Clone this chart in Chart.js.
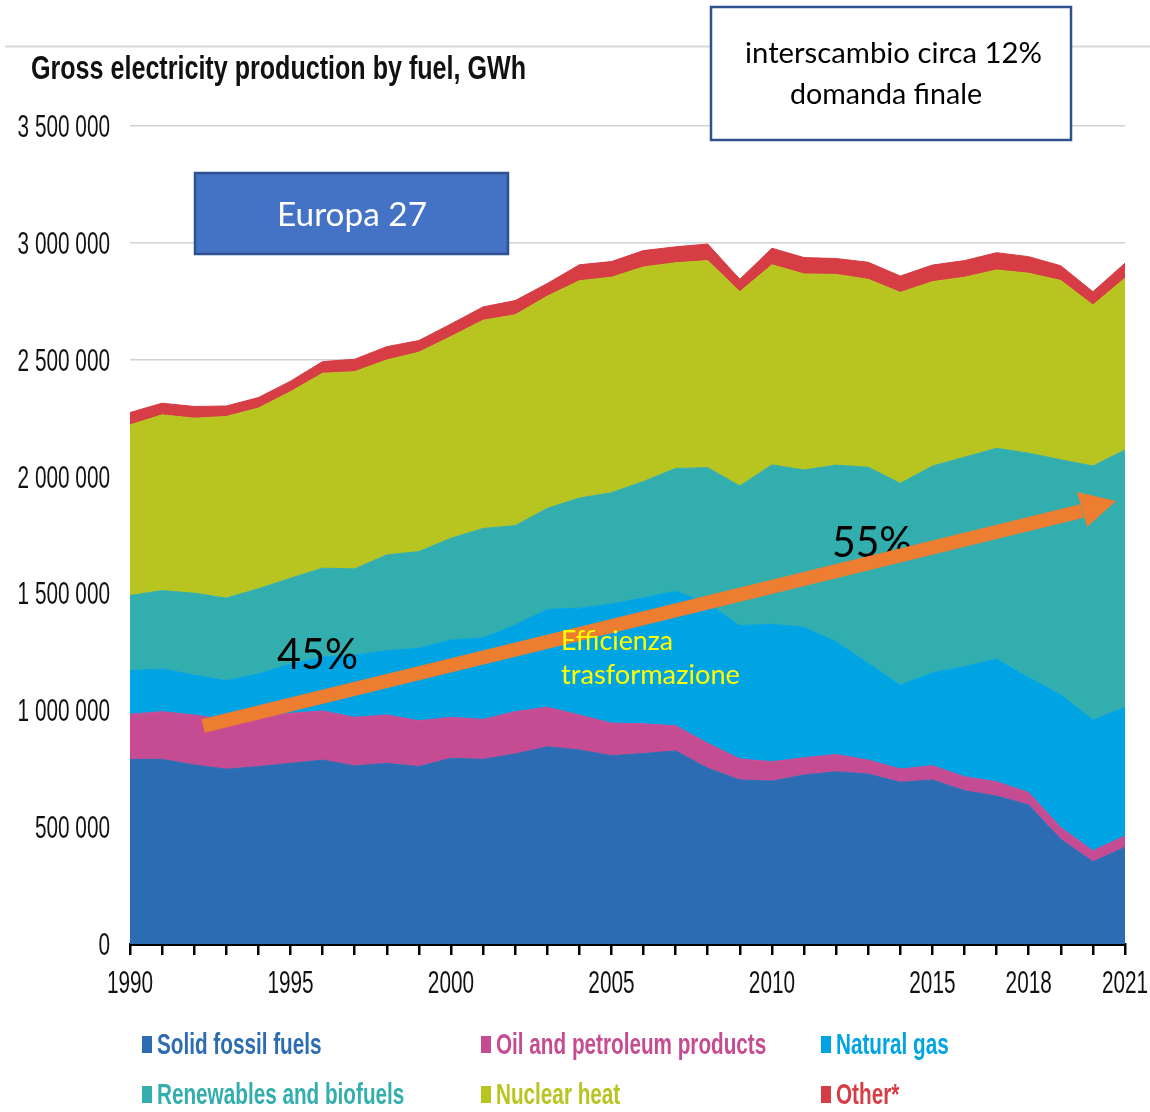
<!DOCTYPE html>
<html>
<head>
<meta charset="utf-8">
<script src="https://cdn.jsdelivr.net/npm/chart.js@4.4.0/dist/chart.umd.min.js"></script>
<style>
  body { margin: 0; background: #fff; }
  canvas { display: block; }
</style>
</head>
<body>
<canvas id="chart" width="1150" height="1112"></canvas>
<script>
// Gross electricity production by fuel, EU27, GWh
var years = ['1990','1991','1992','1993','1994','1995','1996','1997','1998','1999',
             '2000','2001','2002','2003','2004','2005','2006','2007','2008','2009',
             '2010','2011','2012','2013','2014','2015','2016','2017','2018','2019',
             '2020','2021'];
var xTickYears = ['1990','1995','2000','2005','2010','2015','2018','2021'];
var yTickStep = 500000;
var yMax = 3500000;

var solidFossil = [790000, 790000, 766000, 748000, 759000, 773000, 787000, 762000, 773000, 759000,
                   795000, 790000, 813000, 844000, 830000, 806000, 815000, 826000, 752000, 702000,
                   697000, 723000, 737000, 727000, 692000, 702000, 656000, 633000, 595000, 448000,
                   352000, 414000];
var oilProducts = [193000, 204000, 214000, 211000, 214000, 214000, 210000, 208000, 207000, 196000,
                   175000, 171000, 181000, 169000, 150000, 139000, 127000, 108000, 107000, 90000,
                   83000, 74000, 74000, 60000, 57000, 61000, 60000, 61000, 53000, 50000,
                   47000, 48000];
var naturalGas = [187000, 183000, 171000, 168000, 183000, 211000, 230000, 267000, 275000, 311000,
                  331000, 349000, 371000, 419000, 457000, 510000, 539000, 576000, 599000, 570000,
                  588000, 558000, 482000, 414000, 359000, 398000, 471000, 525000, 492000, 568000,
                  559000, 551000];
var renewables = [321000, 335000, 350000, 353000, 364000, 367000, 381000, 368000, 410000, 413000,
                  435000, 468000, 425000, 432000, 471000, 476000, 498000, 525000, 580000, 598000,
                  682000, 673000, 756000, 839000, 863000, 884000, 896000, 902000, 960000, 1006000,
                  1087000, 1101000];
var nuclearHeat = [730000, 752000, 749000, 777000, 773000, 798000, 834000, 844000, 834000, 853000,
                   863000, 891000, 902000, 908000, 930000, 922000, 918000, 880000, 886000, 831000,
                   856000, 839000, 816000, 804000, 817000, 789000, 770000, 763000, 770000, 767000,
                   689000, 735000];
var otherFuels = [53000, 50000, 50000, 45000, 45000, 45000, 50000, 53000, 57000, 50000,
                  54000, 57000, 61000, 54000, 68000, 67000, 70000, 68000, 71000, 53000,
                  71000, 70000, 68000, 73000, 70000, 71000, 71000, 74000, 71000, 63000,
                  57000, 64000];

var seriesNames = ['Solid fossil fuels', 'Oil and petroleum products', 'Natural gas',
                   'Renewables and biofuels', 'Nuclear heat', 'Other*'];
var seriesColors = ['#2B6CB2', '#C54C93', '#00A4E2', '#33AEAF', '#B8C41F', '#D63D44'];
var seriesData = [solidFossil, oilProducts, naturalGas, renewables, nuclearHeat, otherFuels];

function drawText(ctx, text, x, y, font, color, align, sx, width) {
    ctx.save();
    ctx.font = font;
    ctx.fillStyle = color;
    ctx.textBaseline = 'alphabetic';
    ctx.textAlign = 'left';
    var w = ctx.measureText(text).width;
    if (width) sx = width / w;
    var ww = w * sx;
    var left = align === 'right' ? x - ww : (align === 'center' ? x - ww / 2 : x);
    ctx.translate(left, y);
    ctx.scale(sx, 1);
    ctx.fillText(text, 0, 0);
    ctx.restore();
}

function spaced(n) {
    return n.toString().replace(/\B(?=(\d{3})+(?!\d))/g, ' ');
}

var backgroundPlugin = {
    id: 'background',
    beforeDraw: function (chart) {
        var ctx = chart.ctx;
        ctx.save();
        ctx.fillStyle = '#fff';
        ctx.fillRect(0, 0, chart.width, chart.height);
        ctx.strokeStyle = '#d9d9d9';
        ctx.lineWidth = 2;
        ctx.beginPath();
        ctx.moveTo(5, 46.5);
        ctx.lineTo(chart.width, 46.5);
        ctx.stroke();
        ctx.restore();
    }
};

// tick labels, title and legend in a narrow grotesque
var labelsPlugin = {
    id: 'labels',
    afterDraw: function (chart) {
        var ctx = chart.ctx;
        var xs = chart.scales.x, ys = chart.scales.y;
        var tickFont = '31px "Liberation Sans", Arial, sans-serif';
        ys.ticks.forEach(function (t) {
            var py = ys.getPixelForValue(t.value);
            drawText(ctx, spaced(t.value), 110, py + 11, tickFont, '#111', 'right', 0.67);
        });
        years.forEach(function (yr, i) {
            if (xTickYears.indexOf(yr) < 0) return;
            drawText(ctx, yr, xs.getPixelForValue(i), 993, tickFont, '#111', 'center', 0.67);
        });

        drawText(ctx, 'Gross electricity production by fuel, GWh', 31, 79,
                 'bold 34px "Liberation Sans", Arial, sans-serif', '#111', 'left', 1, 495);

        var colX = [142, 481, 821];
        var rowY = [1054, 1104];
        seriesNames.forEach(function (name, i) {
            var cx = colX[i % 3], by = rowY[Math.floor(i / 3)];
            ctx.fillStyle = seriesColors[i];
            ctx.fillRect(cx, by - 18, 10, 17);
            drawText(ctx, name, cx + 15, by, 'bold 30px "Liberation Sans", Arial, sans-serif',
                     seriesColors[i], 'left', 0.69);
        });
    }
};

// boxes, percentages and the efficiency arrow laid over the chart
var notesPlugin = {
    id: 'notes',
    afterDatasetsDraw: function (chart) {
        var ctx = chart.ctx;
        var note = 'Lato, "Open Sans", sans-serif';
        ctx.save();

        ctx.fillStyle = '#4472C4';
        ctx.strokeStyle = '#2F528F';
        ctx.lineWidth = 2.5;
        ctx.fillRect(195, 173, 313, 81);
        ctx.strokeRect(195, 173, 313, 81);
        drawText(ctx, 'Europa 27', 277, 226, '33px ' + note, '#fff', 'left', 1, 150);

        ctx.fillStyle = '#fff';
        ctx.fillRect(711, 7, 360, 133);
        ctx.strokeRect(711, 7, 360, 133);
        drawText(ctx, 'interscambio circa 12%', 745, 63, '29px ' + note, '#000', 'left', 1, 297);
        drawText(ctx, 'domanda finale', 790, 103.5, '29px ' + note, '#000', 'left', 1, 192);

        drawText(ctx, '45%', 277, 669, '43px ' + note, '#000', 'left', 1, 81);
        drawText(ctx, '55%', 832, 557, '43px ' + note, '#000', 'left', 1, 80);

        ctx.strokeStyle = '#ED7D31';
        ctx.fillStyle = '#ED7D31';
        ctx.lineWidth = 14;
        ctx.lineCap = 'butt';
        ctx.beginPath();
        ctx.moveTo(203, 726);
        ctx.lineTo(1082, 511);
        ctx.stroke();
        ctx.beginPath();
        ctx.moveTo(1116, 501);
        ctx.lineTo(1077, 492);
        ctx.lineTo(1087, 527);
        ctx.closePath();
        ctx.fill();

        drawText(ctx, 'Efficienza', 561, 650, '26px ' + note, '#FFFF00', 'left', 1, 112);
        drawText(ctx, 'trasformazione', 561, 684, '26px ' + note, '#FFFF00', 'left', 1, 179);
        ctx.restore();
    }
};

var datasets = seriesData.map(function (d, i) {
    return {
        label: seriesNames[i],
        data: d,
        backgroundColor: seriesColors[i],
        borderColor: seriesColors[i],
        borderWidth: 1,
        pointRadius: 0,
        tension: 0,
        fill: i === 0 ? 'origin' : '-1'
    };
});

new Chart(document.getElementById('chart'), {
    type: 'line',
    data: { labels: years, datasets: datasets },
    options: {
        responsive: false,
        animation: false,
        devicePixelRatio: 1,
        layout: { padding: { top: 126, right: 25, left: 0, bottom: 0 } },
        plugins: { legend: { display: false }, tooltip: { enabled: false } },
        scales: {
            x: {
                offset: false,
                ticks: { display: false, autoSkip: false },
                grid: { drawOnChartArea: false, drawTicks: true, tickLength: 11, color: '#000', lineWidth: 2.5 },
                border: { display: true, color: '#000', width: 3 },
                afterFit: function (s) { s.height = 168; }
            },
            y: {
                stacked: true,
                min: 0,
                max: yMax,
                ticks: { display: false, stepSize: yTickStep },
                grid: { color: '#d2d2d2', lineWidth: 1.5, drawTicks: false },
                border: { display: false },
                afterFit: function (s) { s.width = 130; }
            }
        }
    },
    plugins: [backgroundPlugin, labelsPlugin, notesPlugin]
});
</script>
</body>
</html>
